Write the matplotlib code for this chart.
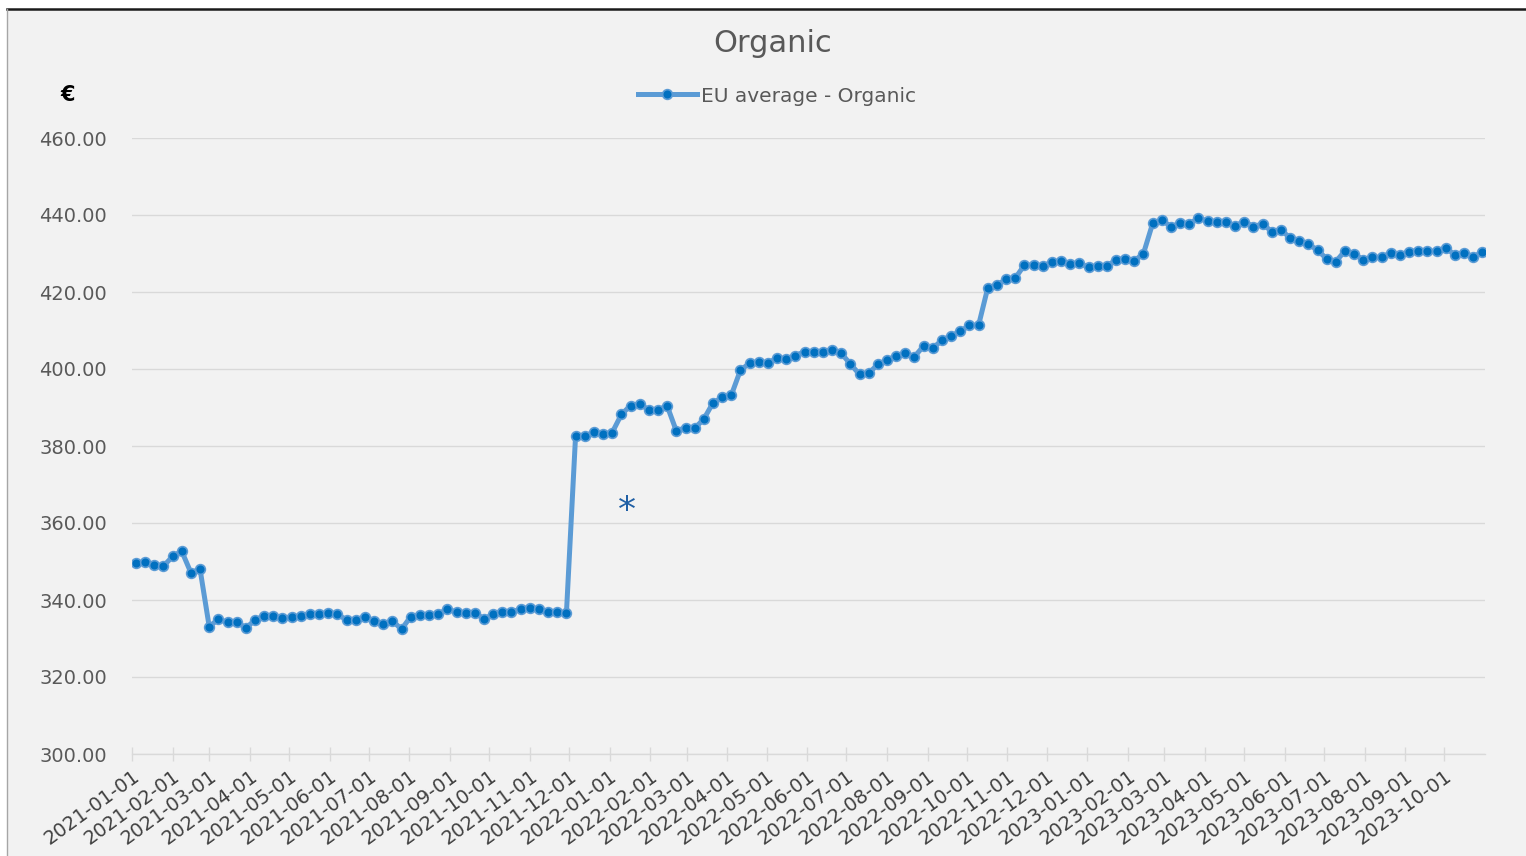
import matplotlib
matplotlib.use("Agg")
import matplotlib.pyplot as plt
import matplotlib.dates as mdates
from matplotlib.patches import Rectangle
from matplotlib.lines import Line2D
import pandas as pd

# ---- data ----
series_name = "EU average - Organic"
title = "Organic"
unit_label = "€"
first_week = "2021-01-04"
n_weeks = 148
values = [
    349.5, 350.0, 349.2, 348.8, 351.3, 352.7, 347.1, 348.0, 333.1, 335.0,
    334.2, 334.4, 332.7, 334.8, 335.9, 335.9, 335.2, 335.5, 335.9, 336.3,
    336.3, 336.7, 336.3, 334.8, 334.8, 335.7, 334.5, 333.7, 334.6, 332.4,
    335.7, 336.0, 336.0, 336.3, 337.7, 336.8, 336.6, 336.7, 335.1, 336.3,
    337.0, 336.8, 337.7, 338.0, 337.6, 336.8, 336.8, 336.6,
    382.7, 382.6, 383.6, 383.1, 383.5, 388.2, 390.5, 390.9, 389.4, 389.4,
    390.4, 383.9, 384.8, 384.6, 387.0, 391.2, 392.6, 393.2,
    399.7, 401.5, 401.7, 401.6, 402.8, 402.6, 403.5, 404.5, 404.5, 404.5,
    404.9, 404.1, 401.3, 398.6, 398.9, 401.2, 402.3, 403.4, 404.1, 403.2,
    406.0, 405.4, 407.5, 408.6, 409.8, 411.3, 411.4,
    421.1, 421.8, 423.3, 423.6, 427.0, 427.0, 426.8, 427.7, 428.1, 427.2,
    427.5, 426.4, 426.8, 426.8, 428.3, 428.7, 428.1, 430.0, 437.8, 438.7,
    437.0, 437.8, 437.7, 439.2, 438.4, 438.1, 438.1, 437.2, 438.3, 437.0,
    437.7, 435.7, 436.1, 434.1, 433.3, 432.4, 430.9, 428.6, 427.9, 430.7,
    430.0, 428.3, 429.0, 429.0, 430.2, 429.6, 430.5, 430.7, 430.6, 430.6,
    431.5, 429.6, 430.1, 429.2, 430.3,
]
dates = pd.date_range(first_week, periods=n_weeks, freq="7D")
tick_dates = pd.date_range("2021-01-01", "2023-10-01", freq="MS")
y_ticks = [300, 320, 340, 360, 380, 400, 420, 440, 460]
note_date = "2022-01-14"
note_value = 363

# ---- figure ----
W, H = 1526, 856
fig = plt.figure(figsize=(W / 100, H / 100), dpi=100, facecolor="white")
# chart area background & borders
fig.add_artist(Rectangle((7 / W, 0), 1 - 7 / W, 1 - 9 / H, transform=fig.transFigure,
                         facecolor="#f2f2f2", edgecolor="none", zorder=-10))
fig.add_artist(Line2D([7 / W, 1], [1 - 9 / H, 1 - 9 / H], transform=fig.transFigure,
                      color="#1a1a1a", lw=1.8))
fig.add_artist(Line2D([7 / W, 7 / W], [0, 1 - 9 / H], transform=fig.transFigure,
                      color="#a6a6a6", lw=1.0))

ax = fig.add_axes([132 / W, 1 - 754 / H, (1485 - 132) / W, (754 - 138) / H])
ax.set_facecolor("#f2f2f2")
ax.patch.set_alpha(0)

line, = ax.plot(dates, values, color="#5b9bd5", lw=3.6, marker="o", markersize=7,
                markerfacecolor="#0070c0", markeredgecolor="#5b9bd5",
                markeredgewidth=1.2, label=series_name, zorder=3)

ax.set_ylim(300, 460)
ax.set_yticks(y_ticks)
ax.set_yticklabels([f"{v:.2f}" for v in y_ticks])
ax.set_xlim(pd.Timestamp("2021-01-01"), pd.Timestamp("2023-11-01"))
ax.set_xticks(tick_dates)
ax.xaxis.set_major_formatter(mdates.DateFormatter("%Y-%m-%d"))

ax.grid(axis="y", color="#d9d9d9", lw=1.0)
for s in ["top", "right", "left"]:
    ax.spines[s].set_visible(False)
ax.spines["bottom"].set_color("#d9d9d9")
ax.spines["bottom"].set_linewidth(1.0)
ax.tick_params(axis="y", length=0, labelsize=14, labelcolor="#595959", pad=18)
ax.tick_params(axis="x", direction="inout", length=10, width=1.0, color="#d9d9d9",
               labelsize=14, labelcolor="#404040", pad=4)
for lbl in ax.get_xticklabels():
    lbl.set_rotation(36)
    lbl.set_ha("right")
    lbl.set_va("top")
    lbl.set_rotation_mode("anchor")

ax.set_axisbelow(True)

fig.text(773 / W, 1 - 44 / H, title, ha="center", va="center", fontsize=22, color="#595959")
fig.text(68 / W, 1 - 95 / H, unit_label, ha="center", va="center", fontsize=15,
         color="black", fontweight="bold")

leg = fig.legend(handles=[line], loc="center", bbox_to_anchor=(777 / W, 1 - 96 / H),
                 frameon=False, fontsize=14.5, handlelength=2.9, handletextpad=0.2,
                 labelcolor="#595959")

ax.text(pd.Timestamp(note_date), note_value, "*", ha="center", va="center",
        fontsize=26, color="#1f5fa5")

fig.savefig("out.png", dpi=100, facecolor=fig.get_facecolor())
